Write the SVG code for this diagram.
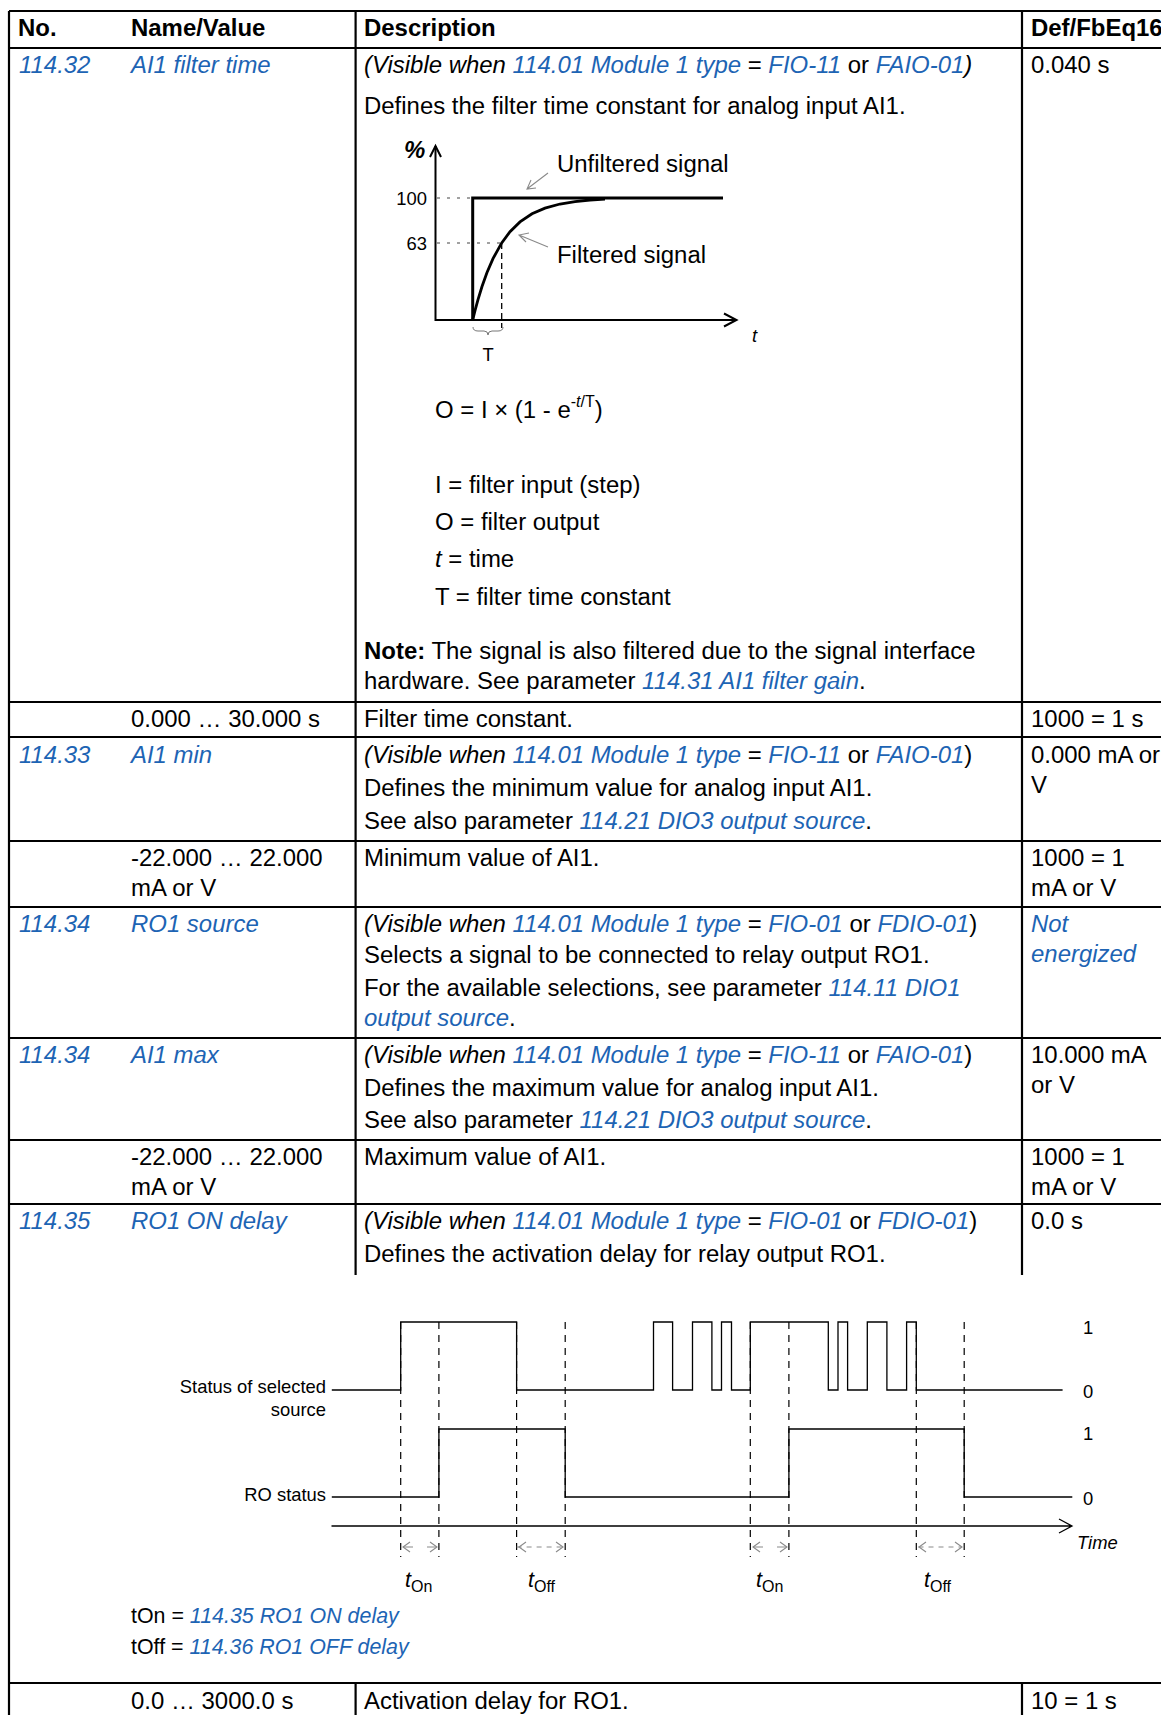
<svg xmlns="http://www.w3.org/2000/svg" width="1161" height="1715" viewBox="0 0 1161 1715">
<style>
.t{font-family:"Liberation Sans",Arial,sans-serif;font-size:23.95px;fill:#000}
.b{font-weight:bold}
.i{font-style:italic}
.l{fill:#1d64b4;font-style:italic}
.s{font-size:18.4px}
.grid{stroke:#000;stroke-width:2.2;fill:none}
.ax{stroke:#000;stroke-width:2;fill:none}
.thin{stroke:#000;stroke-width:1.3;fill:none}
.dash{stroke:#000;stroke-width:1.2;stroke-dasharray:7 6;fill:none}
.dot{stroke:#444;stroke-width:1.2;stroke-dasharray:3 7;fill:none}
.grey{stroke:#8a8a8a;stroke-width:1.1;fill:none}
</style>
<rect width="1161" height="1715" fill="#fff"/>
<g id="table-grid" class="grid">
<path d="M9 11V1715"/>
<path d="M355.6 11V1275M355.6 1683V1715"/>
<path d="M1022 11V1275M1022 1683V1715"/>
<path d="M9 11H1161M9 48H1161M9 702H1161M9 737H1161M9 841H1161M9 907H1161M9 1038H1161M9 1140H1161M9 1204H1161M9 1683H1161"/>
</g>
<g id="header" class="t b">
<text x="18" y="36">No.</text>
<text x="131" y="36">Name/Value</text>
<text x="364" y="36">Description</text>
<text x="1031" y="36">Def/FbEq16</text>
</g>
<g id="row-114-32" class="t">
<text x="19" y="73" class="l">114.32</text>
<text x="131" y="73" class="l">AI1 filter time</text>
<text x="364" y="73"><tspan class="i">(Visible when </tspan><tspan class="l">114.01 Module 1 type</tspan> = <tspan class="l">FIO-11</tspan> or <tspan class="l">FAIO-01</tspan><tspan class="i">)</tspan></text>
<text x="1031" y="73">0.040 s</text>
<text x="364" y="114">Defines the filter time constant for analog input AI1.</text>
<text x="435" y="418">O = I × (1 - e<tspan dy="-11" font-size="16">-<tspan class="i">t</tspan>/T</tspan><tspan dy="11">)</tspan></text>
<text x="435" y="493">I = filter input (step)</text>
<text x="435" y="530">O = filter output</text>
<text x="435" y="567"><tspan class="i">t</tspan> = time</text>
<text x="435" y="605">T = filter time constant</text>
<text x="364" y="659"><tspan class="b">Note:</tspan> The signal is also filtered due to the signal interface</text>
<text x="364" y="689">hardware. See parameter <tspan class="l">114.31 AI1 filter gain</tspan>.</text>
</g>
<g id="filter-chart">
<path class="ax" d="M435.5 146V320H736.5"/>
<path class="ax" d="M430 157L435.5 146L441 157"/>
<path class="ax" d="M724 313.5L736.5 320L724 326.5"/>
<path class="dot" d="M437 198H471M437 243H500"/>
<path class="thin" stroke-dasharray="6 4" d="M501.7 243V328"/>
<polyline fill="none" stroke="#000" stroke-width="2.8" points="472.7,320 475,310.7 478,299.6 482,286.5 487,272.5 493,258.6 501.7,242.9 510,231.7 520,221.9 532,213.8 545,208.1 560,204 575,201.6 590,200 605,199"/>
<path fill="none" stroke="#000" stroke-width="3" d="M472.7 320V198H723"/>
<path fill="none" stroke="#777" stroke-width="1" d="M473 327Q473 331 478 331H484Q488 331 488 335Q488 331 492 331H498Q503 331 503 327"/>
<path class="grey" stroke="#333" d="M548 173L527 189M536 188L527 189L531 180"/>
<path class="grey" stroke="#333" d="M548 247L519 235M526 242L519 235L529 233"/>
<text class="t b i" x="404" y="158" font-size="16">%</text>
<text class="t s" x="427" y="205" text-anchor="end">100</text>
<text class="t s" x="427" y="250" text-anchor="end">63</text>
<text class="t i s" x="752" y="342">t</text>
<text class="t s" x="488" y="361" text-anchor="middle">T</text>
<text class="t" x="557" y="172">Unfiltered signal</text>
<text class="t" x="557" y="263">Filtered signal</text>
</g>
<g id="row-range-1" class="t">
<text x="131" y="727">0.000 … 30.000 s</text>
<text x="364" y="727">Filter time constant.</text>
<text x="1031" y="727">1000 = 1 s</text>
</g>
<g id="row-114-33" class="t">
<text x="19" y="763" class="l">114.33</text>
<text x="131" y="763" class="l">AI1 min</text>
<text x="364" y="763"><tspan class="i">(Visible when </tspan><tspan class="l">114.01 Module 1 type</tspan> = <tspan class="l">FIO-11</tspan> or <tspan class="l">FAIO-01</tspan>)</text>
<text x="364" y="796">Defines the minimum value for analog input AI1.</text>
<text x="364" y="829">See also parameter <tspan class="l">114.21 DIO3 output source</tspan>.</text>
<text x="1031" y="763">0.000 mA or</text>
<text x="1031" y="792.5">V</text>
</g>
<g id="row-range-2" class="t">
<text x="131" y="866">-22.000 … 22.000</text>
<text x="131" y="895.5">mA or V</text>
<text x="364" y="866">Minimum value of AI1.</text>
<text x="1031" y="866">1000 = 1</text>
<text x="1031" y="895.5">mA or V</text>
</g>
<g id="row-114-34-ro1" class="t">
<text x="19" y="932" class="l">114.34</text>
<text x="131" y="932" class="l">RO1 source</text>
<text x="364" y="932"><tspan class="i">(Visible when </tspan><tspan class="l">114.01 Module 1 type</tspan> = <tspan class="l">FIO-01</tspan> or <tspan class="l">FDIO-01</tspan>)</text>
<text x="364" y="963">Selects a signal to be connected to relay output RO1.</text>
<text x="364" y="996">For the available selections, see parameter <tspan class="l">114.11 DIO1</tspan></text>
<text x="364" y="1025.5"><tspan class="l">output source</tspan>.</text>
<text x="1031" y="932" class="l">Not</text>
<text x="1031" y="961.5" class="l">energized</text>
</g>
<g id="row-114-34-ai1" class="t">
<text x="19" y="1063" class="l">114.34</text>
<text x="131" y="1063" class="l">AI1 max</text>
<text x="364" y="1063"><tspan class="i">(Visible when </tspan><tspan class="l">114.01 Module 1 type</tspan> = <tspan class="l">FIO-11</tspan> or <tspan class="l">FAIO-01</tspan>)</text>
<text x="364" y="1095.5">Defines the maximum value for analog input AI1.</text>
<text x="364" y="1128">See also parameter <tspan class="l">114.21 DIO3 output source</tspan>.</text>
<text x="1031" y="1063">10.000 mA</text>
<text x="1031" y="1092.5">or V</text>
</g>
<g id="row-range-3" class="t">
<text x="131" y="1165">-22.000 … 22.000</text>
<text x="131" y="1194.5">mA or V</text>
<text x="364" y="1165">Maximum value of AI1.</text>
<text x="1031" y="1165">1000 = 1</text>
<text x="1031" y="1194.5">mA or V</text>
</g>
<g id="row-114-35" class="t">
<text x="19" y="1229" class="l">114.35</text>
<text x="131" y="1229" class="l">RO1 ON delay</text>
<text x="364" y="1229"><tspan class="i">(Visible when </tspan><tspan class="l">114.01 Module 1 type</tspan> = <tspan class="l">FIO-01</tspan> or <tspan class="l">FDIO-01</tspan>)</text>
<text x="364" y="1261.5">Defines the activation delay for relay output RO1.</text>
<text x="1031" y="1229">0.0 s</text>
</g>
<g id="timing-chart">
<path class="dash" d="M400.7 1322V1557M438.9 1322V1557M516.6 1322V1557M565.2 1322V1557M750.3 1322V1557M788.9 1322V1557M916.3 1322V1557M964.2 1322V1557"/>
<path class="thin" d="M331.8 1390H400.7V1322H516.6V1390H653.5V1322H672.6V1390H692.5V1322H711.9V1390H721.5V1322H731.5V1390H750.3V1322H828.3V1390H838V1322H847.6V1390H867.3V1322H886.9V1390H906.6V1322H916.3V1390H1062.6"/>
<path class="thin" d="M331.8 1497H438.9V1429H565.2V1497H788.9V1429H964.2V1497H1072.3"/>
<path class="thin" d="M331.5 1526H1072M1059 1519L1072 1526L1059 1533"/>
<g class="grey">
<path d="M516.6 1547H563M918.5 1547H962" stroke-dasharray="5 5"/>
<path d="M403 1547H413M427 1547H437M753 1547H763M777 1547H787"/>
<path d="M410 1542L403 1547L410 1552M430 1542L437 1547L430 1552"/>
<path d="M526 1542L519 1547L526 1552M556 1542L563 1547L556 1552"/>
<path d="M760 1542L753 1547L760 1552M780 1542L787 1547L780 1552"/>
<path d="M926 1542L919 1547L926 1552M955 1542L962 1547L955 1552"/>
</g>
<g class="t s">
<text x="326" y="1393" text-anchor="end">Status of selected</text>
<text x="326" y="1416" text-anchor="end">source</text>
<text x="326" y="1501" text-anchor="end">RO status</text>
<text x="1083" y="1334">1</text>
<text x="1083" y="1398">0</text>
<text x="1083" y="1440">1</text>
<text x="1083" y="1505">0</text>
<text x="1077" y="1549" class="i">Time</text>
</g>
<g class="t">
<text x="405" y="1587" font-size="21.5"><tspan class="i">t</tspan><tspan font-size="16" dy="5">On</tspan></text>
<text x="528" y="1587" font-size="21.5"><tspan class="i">t</tspan><tspan font-size="16" dy="5">Off</tspan></text>
<text x="756" y="1587" font-size="21.5"><tspan class="i">t</tspan><tspan font-size="16" dy="5">On</tspan></text>
<text x="924" y="1587" font-size="21.5"><tspan class="i">t</tspan><tspan font-size="16" dy="5">Off</tspan></text>
<text x="131" y="1623" font-size="21.4">tOn = <tspan class="l">114.35 RO1 ON delay</tspan></text>
<text x="131" y="1654" font-size="21.4">tOff = <tspan class="l">114.36 RO1 OFF delay</tspan></text>
</g>
</g>
<g id="row-range-4" class="t">
<text x="131" y="1709">0.0 … 3000.0 s</text>
<text x="364" y="1709">Activation delay for RO1.</text>
<text x="1031" y="1709">10 = 1 s</text>
</g>
</svg>
